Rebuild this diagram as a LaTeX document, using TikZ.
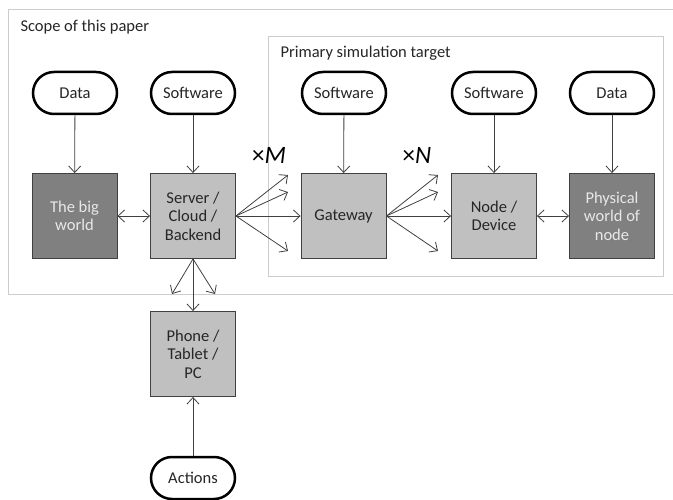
\documentclass[tikz,border=0pt]{standalone}
\usepackage{fontspec}
\setmainfont{Carlito}
\usetikzlibrary{arrows.meta}
\definecolor{boxlight}{HTML}{C0C0C0}
\definecolor{boxdark}{HTML}{808080}
\definecolor{edgecol}{HTML}{404040}
\definecolor{regioncol}{HTML}{CCCCCC}
\definecolor{darktext}{HTML}{E8E8E8}
\begin{document}
\begin{tikzpicture}[x=1pt,y=-1pt,
  every node/.style={font=\fontsize{16.5}{18.5}\selectfont, text=black!85},
  term/.style={draw=black, line width=2.5pt, fill=white, minimum width=84pt, minimum height=42pt, rounded corners=21pt, inner sep=0pt},
  lbox/.style={draw=edgecol, line width=0.9pt, fill=boxlight, minimum width=85pt, minimum height=85pt, align=center, inner sep=0pt},
  dbox/.style={lbox, fill=boxdark, text=darktext},
  region/.style={draw=regioncol, line width=1pt},
  conn/.style={draw=edgecol, line width=0.8pt, -{Straight Barb[length=6.5pt,width=12pt]}},
  biconn/.style={conn, {Straight Barb[length=6.5pt,width=12pt]}-{Straight Barb[length=6.5pt,width=12pt]}},
  mult/.style={font=\fontsize{25}{27}\selectfont, text=black}
]
\useasboundingbox (0,0) rectangle (673,500);
% regions
\draw[region] (673,10) -- (8,10) -- (8,295) -- (673,295);
\draw[region] (268,37) rectangle (663,277);
\node[anchor=west] (scopelbl) at (17,27) {Scope of this paper};
\node[anchor=west] (primlbl) at (277,53) {Primary simulation target};
% terminals
\node[term] (data1) at (75,93) {Data};
\node[term] (sw1) at (193,93) {Software};
\node[term] (sw2) at (344,93) {Software};
\node[term] (sw3) at (494,93) {Software};
\node[term] (data2) at (612,93) {Data};
\node[term] (act) at (193,478) {Actions};
% boxes
\node[dbox] (big) at (74.5,216) {The big\\world};
\node[lbox] (srv) at (193,216) {Server /\\Cloud /\\Backend};
\node[lbox] (gw) at (343.5,216) {Gateway};
\node[lbox] (dev) at (494,216) {Node /\\Device};
\node[dbox] (phys) at (612,216) {Physical\\world of\\node};
\node[lbox] (phone) at (193,354) {Phone /\\Tablet /\\PC};
% multipliers
\node[mult] (xm) at (269,155) {×\textit{M}};
\node[mult] (xn) at (417,155) {×\textit{N}};
% vertical inputs
\draw[conn] (data1) -- (big);
\draw[conn] (sw1) -- (srv);
\draw[conn] (sw2) -- (gw);
\draw[conn] (sw3) -- (dev);
\draw[conn] (data2) -- (phys);
\draw[conn] (act) -- (phone);
% bidirectional
\draw[biconn] (big) -- (srv);
\draw[biconn] (dev) -- (phys);
% server fan
\coordinate (m1) at (288,175);
\coordinate (m2) at (288,192);
\coordinate (m4) at (288,251);
\draw[conn] (srv.east) -- (m1);
\draw[conn] (srv.east) -- (m2);
\draw[conn] (srv.east) -- (gw.west);
\draw[conn] (srv.east) -- (m4);
% gateway fan
\coordinate (n1) at (438,175);
\coordinate (n2) at (438,192);
\coordinate (n4) at (438,251);
\draw[conn] (gw.east) -- (n1);
\draw[conn] (gw.east) -- (n2);
\draw[conn] (gw.east) -- (dev.west);
\draw[conn] (gw.east) -- (n4);
% down fan
\coordinate (p1) at (172,294);
\coordinate (p3) at (215,294);
\draw[conn] (srv.south) -- (p1);
\draw[conn] (srv.south) -- (phone.north);
\draw[conn] (srv.south) -- (p3);
\end{tikzpicture}
\end{document}
